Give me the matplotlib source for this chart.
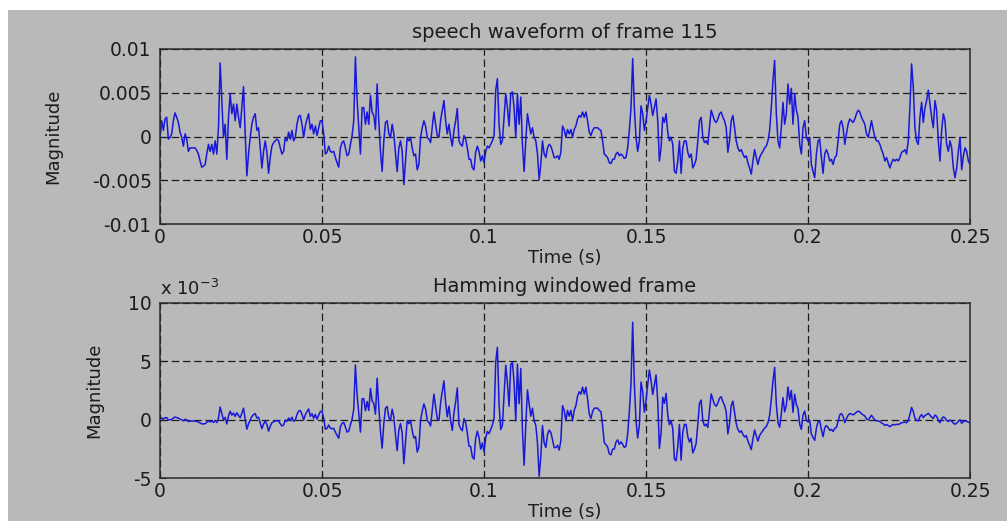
import numpy as np
import matplotlib.pyplot as plt
from matplotlib.patches import Rectangle

seg_1 = [-0.1, 1.8, 0.7, 2.0, 2.2, -0.3, -0.1, 0.3, 1.8, 2.7,
         2.2, 1.6, 0.5, -0.1, -1.1, 0.3, -0.3, -1.7, -1.3, -1.3,
         -1.3, -1.3, -1.6, -2.0, -2.8, -3.5, -3.4, -3.2, -2.0, -0.9,
         -1.7, -0.9, -2.0, -0.5, -2.0, 1.0, 8.4, 4.1, -0.1, 1.4,
         -2.6, 2.2, 4.9, 2.6, 3.7, 1.8, 3.7, 2.2, 1.0, 3.3,
         5.7, 0.3, -4.5, -2.0, -0.1, 1.4, 2.2, 2.6, 0.7, 1.0,
         -1.3, -3.6, -1.7, -0.5, -1.8, -4.2, -2.4, -1.1, -0.7, -0.5,
         -0.3, -0.5, -1.3, -2.0, -1.7, -0.1, -0.5, 0.5]
seg_2 = [-0.3, 0.7, -0.5, -0.1, 1.4, 2.3, 2.4, 1.4, -0.1, 1.2,
         2.0, 2.6, 0.8, 1.4, 0.3, 1.2, 0.1, 1.0, 1.8, 1.8,
         0.3, -2.0, -1.8, -1.1, -1.7, -1.8, -1.7, -2.4, -3.0, -3.5,
         -1.3, -0.7, -0.5, -1.3, -2.2, -2.0, -0.9, 0.1, 1.8, 9.1,
         4.1, 1.0, -2.0, 3.3, 3.3, 1.4, 2.8, 1.4, 4.7, 2.8,
         2.4, 0.8, 6.0, 1.8, -1.7, -4.0, -0.5, 1.6, 1.8, 0.3,
         -0.1, 1.4, 0.3, -2.0, -4.0, -1.3, -0.5, -1.7, -5.5, -2.8,
         -0.1, -0.5, -0.1, -1.3, -2.2, -2.0, -3.8, -3.2, -0.1, 1.0,
         1.8]
seg_3 = [1.2, -0.1, -0.3, -0.7, 1.0, 2.8, 1.4, 0.1, -0.1, 1.8,
         3.0, 4.1, 1.8, 0.3, 1.4, -0.1, -1.1, 0.7, 1.8, 3.2,
         -0.5, -0.9, -1.1, 0.1, -0.3, -1.3, -2.6, -2.6, -3.6, -3.8,
         -1.8, -1.1, -1.7, -2.8, -2.2, -3.0, -1.7, -1.1, -1.3, -0.9,
         -0.5, 0.1, 5.3, 6.6, 1.4, -0.9, -0.5, 2.2, 4.9, 3.3,
         1.2, 4.9, 5.1, 3.3, -0.1, 4.9, 1.4, 4.5, -0.9, -4.0,
         -0.5, 2.6, 1.4, 0.3, 1.0, -0.1, -0.5, -2.0, -4.9, -3.2,
         -0.5, -2.0, -2.4, -1.3, -0.9, -1.1, -1.7, -2.4, -2.4, -2.2,
         -2.6]
seg_4 = [-1.8, 1.2, 0.8, -0.1, 0.8, 0.3, 0.8, -0.1, 0.8, 1.2,
         2.0, 2.4, 2.2, 2.8, 2.2, 2.8, 1.8, 0.5, 0.1, 0.7,
         1.0, 1.0, 1.0, 0.8, 0.7, -0.5, -2.0, -2.2, -2.4, -3.0,
         -3.1, -2.6, -2.6, -2.0, -1.8, -2.2, -2.0, -2.2, -2.5, -2.4,
         -1.3, 0.7, 3.3, 8.9, 3.3, -0.1, -1.7, -0.5, 3.5, 2.6,
         0.7, 1.8, 3.3, 4.7, 3.7, 2.4, 3.3, 4.3, 1.8, -2.8,
         -1.3, 2.2, 1.6, 2.6, 0.5, -0.5, -0.1, -0.9, -4.0, -4.2,
         -2.8, -0.5, -4.2, -1.3, -0.5, -0.5, -1.8, -2.4, -2.0, -3.6,
         -3.2]
seg_5 = [-2.6, -0.5, 1.8, 2.2, -0.1, -0.7, -0.5, -0.9, 1.0, 3.0,
         2.4, 1.8, 1.6, 2.0, 2.6, 2.8, 2.2, 1.8, 1.0, -1.8,
         -0.5, 1.8, 2.4, 1.0, -0.5, -1.3, -1.7, -1.5, -2.0, -2.4,
         -2.2, -3.0, -3.6, -4.3, -2.8, -1.5, -2.4, -3.2, -2.4, -2.0,
         -1.7, -1.3, -1.1, -0.5, 0.7, 3.3, 6.4, 8.7, 2.6, -0.5,
         -1.3, 1.0, 3.9, 1.4, 2.6, 6.0, 3.7, 5.5, 1.4, 4.9,
         3.0, 2.2, -0.9, -2.0, 1.0, 1.8, -0.1, -0.5, -0.1, -3.2,
         -4.0, -4.7, -2.0, -0.5, -0.3, -2.4, -4.2, -2.0, -1.5, -2.0,
         -2.8]
seg_6 = [-2.6, -3.2, -2.4, -2.2, -0.5, 1.4, 1.8, 1.0, -0.9, 0.3,
         1.4, 2.0, 1.8, 1.6, 2.0, 2.6, 3.0, 2.8, 2.2, 1.8,
         1.4, 0.3, -0.1, 0.8, 1.8, 0.8, -0.1, -0.5, -0.5, -0.9,
         -1.5, -2.0, -2.8, -2.4, -3.0, -3.6, -3.0, -2.6, -2.8, -2.6,
         -2.8, -2.4, -1.8, -1.7, -1.5, -2.0, -0.5, 3.3, 8.3, 5.7,
         1.0, -0.5, -0.9, 2.2, 3.9, 1.6, 3.3, 4.1, 5.3, 3.7,
         2.2, 1.0, 4.1, 3.0, -0.5, -2.8, 0.7, 2.6, 1.8, -0.9,
         -1.7, -0.5, -1.3, -3.6, -4.7, -3.6, -1.7, -0.1, -3.8, -2.2,
         -1.3, -1.7, -2.8, -3.2]

frame_len = 0.25  # s

xticks = [0, 0.05, 0.1, 0.15, 0.2, 0.25]
xtick_labels = ["0", "0.05", "0.1", "0.15", "0.2", "0.25"]
top_yticks = [-0.01, -0.005, 0, 0.005, 0.01]
top_ytick_labels = ["-0.01", "-0.005", "0", "0.005", "0.01"]
bot_yticks = [-0.005, 0, 0.005, 0.01]
bot_ytick_labels = ["-5", "0", "5", "10"]

# frame and its hamming windowed version
frame = np.concatenate([seg_1, seg_2, seg_3, seg_4, seg_5, seg_6]) * 1e-3
t = np.linspace(0, frame_len, len(frame))
windowed = frame * np.hamming(len(frame))

bg = "#b9b9b9"
ink = "#1c1c1c"
plt.rcParams["font.family"] = "DejaVu Sans"
plt.rcParams["font.size"] = 13

fig = plt.figure(figsize=(10.07, 5.21), dpi=100, facecolor=bg)
# white strip left over from the screenshot
fig.add_artist(Rectangle((0, 1 - 10 / 521), 1, 10 / 521, transform=fig.transFigure,
                         facecolor="white", edgecolor="none"))
fig.add_artist(Rectangle((0, 0), 8 / 1007, 1, transform=fig.transFigure,
                         facecolor="white", edgecolor="none"))

ax1 = fig.add_axes([0.1589, 0.570, 0.8044, 0.336])
ax2 = fig.add_axes([0.1589, 0.0825, 0.8044, 0.336])

panels = [
    (ax1, frame, top_yticks, top_ytick_labels, "speech waveform of frame 115", -0.121),
    (ax2, windowed, bot_yticks, bot_ytick_labels, "Hamming windowed frame", -0.070),
]

for ax, y, yt, ytl, title, ylab_x in panels:
    ax.set_facecolor(bg)
    ax.plot(t, y, color="#1818d8", lw=1.1)
    ax.set_xlim(0, frame_len)
    ax.set_ylim(yt[0], yt[-1])
    ax.set_xticks(xticks)
    ax.set_xticklabels(xtick_labels)
    ax.set_yticks(yt)
    ax.set_yticklabels(ytl)
    ax.grid(True, linestyle=(0, (6, 3)), color=ink, lw=0.9)
    ax.tick_params(direction="in", length=4, colors=ink, labelcolor=ink, labelsize=13.5)
    ax.tick_params(axis="y", pad=6)
    ax.tick_params(axis="x", pad=3)
    for s in ax.spines.values():
        s.set_color("#2a2a2a")
        s.set_linewidth(1.1)
    ax.set_title(title, color=ink, pad=8, fontsize=14)
    ax.set_xlabel("Time (s)", color=ink, labelpad=1)
    ax.set_ylabel("Magnitude", color=ink)
    ax.yaxis.set_label_coords(ylab_x, 0.5)

ax2.text(0.0, 1.02, r"x 10$^{-3}$", transform=ax2.transAxes, ha="left", va="bottom",
         color=ink)

fig.savefig("out.png", dpi=100, facecolor=bg)
